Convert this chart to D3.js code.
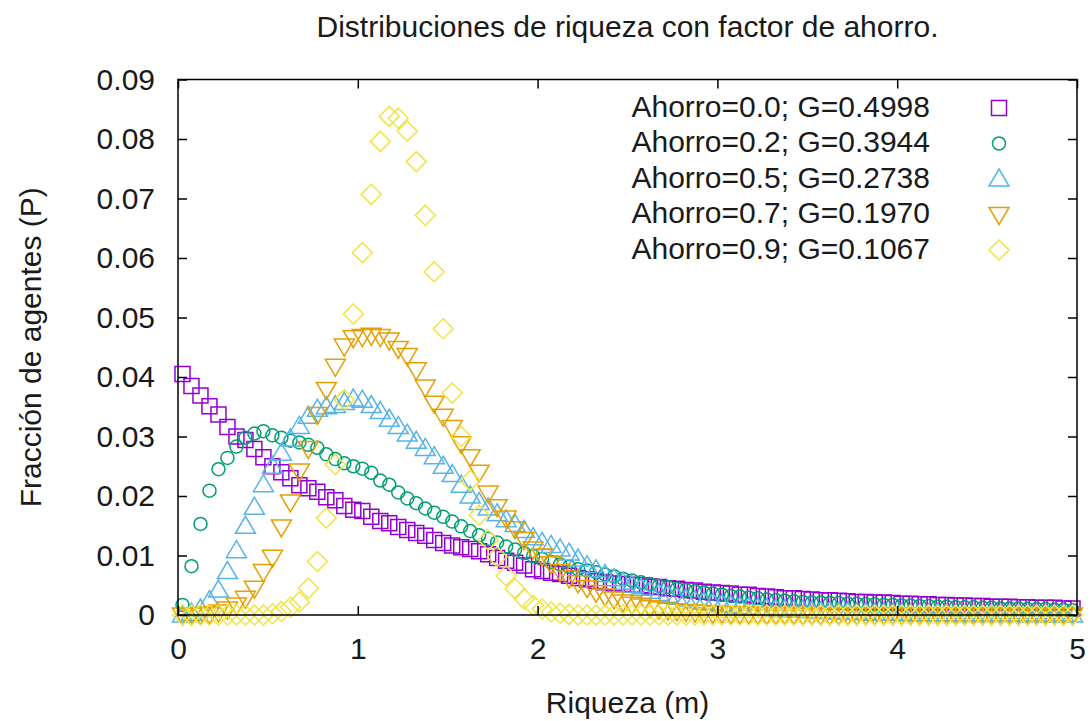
<!DOCTYPE html>
<html>
<head>
<meta charset="utf-8">
<script src="https://cdn.jsdelivr.net/npm/d3@7"></script>
<style>
  html, body { margin: 0; padding: 0; background: #fff; }
  svg { display: block; font-family: "Liberation Sans", Arial, sans-serif; }
</style>
</head>
<body>
<svg id="chart" width="1090" height="721"></svg>
<script>
// Bin centres of the wealth histogram (bin width 0.05)
const riqueza = [
  0.025, 0.075, 0.125, 0.175, 0.225, 0.275, 0.325, 0.375, 0.425, 0.475,
  0.525, 0.575, 0.625, 0.675, 0.725, 0.775, 0.825, 0.875, 0.925, 0.975,
  1.025, 1.075, 1.125, 1.175, 1.225, 1.275, 1.325, 1.375, 1.425, 1.475,
  1.525, 1.575, 1.625, 1.675, 1.725, 1.775, 1.825, 1.875, 1.925, 1.975,
  2.025, 2.075, 2.125, 2.175, 2.225, 2.275, 2.325, 2.375, 2.425, 2.475,
  2.525, 2.575, 2.625, 2.675, 2.725, 2.775, 2.825, 2.875, 2.925, 2.975,
  3.025, 3.075, 3.125, 3.175, 3.225, 3.275, 3.325, 3.375, 3.425, 3.475,
  3.525, 3.575, 3.625, 3.675, 3.725, 3.775, 3.825, 3.875, 3.925, 3.975,
  4.025, 4.075, 4.125, 4.175, 4.225, 4.275, 4.325, 4.375, 4.425, 4.475,
  4.525, 4.575, 4.625, 4.675, 4.725, 4.775, 4.825, 4.875, 4.925, 4.975
];

// Fraction of agents per bin, one array per saving factor
const ahorro00 = [
  0.0405, 0.0385, 0.0369, 0.0351, 0.0337, 0.0316, 0.0300, 0.0294, 0.0279, 0.0265,
  0.0250, 0.0240, 0.0230, 0.0218, 0.0213, 0.0207, 0.0198, 0.0193, 0.0183, 0.0177,
  0.0175, 0.0165, 0.0158, 0.0154, 0.0148, 0.0143, 0.0138, 0.0133, 0.0126, 0.0121,
  0.0117, 0.0114, 0.0111, 0.0107, 0.0102, 0.0096, 0.0091, 0.0088, 0.0083, 0.0077,
  0.0074, 0.0071, 0.0069, 0.0066, 0.0062, 0.0060, 0.0057, 0.0055, 0.0053, 0.0052,
  0.0051, 0.0050, 0.0048, 0.0047, 0.0045, 0.0044, 0.0042, 0.0041, 0.0039, 0.0038,
  0.0037, 0.0036, 0.0034, 0.0034, 0.0032, 0.0031, 0.0030, 0.0028, 0.0028, 0.0027,
  0.0026, 0.0025, 0.0025, 0.0024, 0.0023, 0.0022, 0.0022, 0.0021, 0.0021, 0.0020,
  0.0019, 0.0019, 0.0018, 0.0018, 0.0017, 0.0017, 0.0016, 0.0016, 0.0015, 0.0015,
  0.0014, 0.0014, 0.0014, 0.0013, 0.0013, 0.0012, 0.0012, 0.0012, 0.0011, 0.0011
];
const ahorro02 = [
  0.0017, 0.0082, 0.0153, 0.0209, 0.0245, 0.0264, 0.0283, 0.0298, 0.0305, 0.0309,
  0.0302, 0.0298, 0.0293, 0.0290, 0.0286, 0.0281, 0.0270, 0.0262, 0.0255, 0.0250,
  0.0246, 0.0239, 0.0226, 0.0219, 0.0206, 0.0196, 0.0188, 0.0179, 0.0172, 0.0165,
  0.0157, 0.0149, 0.0141, 0.0134, 0.0128, 0.0122, 0.0115, 0.0110, 0.0104, 0.0099,
  0.0094, 0.0089, 0.0085, 0.0081, 0.0077, 0.0075, 0.0072, 0.0068, 0.0065, 0.0061,
  0.0058, 0.0055, 0.0052, 0.0049, 0.0047, 0.0044, 0.0042, 0.0040, 0.0038, 0.0036,
  0.0034, 0.0032, 0.0031, 0.0029, 0.0028, 0.0026, 0.0025, 0.0024, 0.0023, 0.0022,
  0.0021, 0.0021, 0.0020, 0.0020, 0.0019, 0.0019, 0.0018, 0.0018, 0.0017, 0.0017,
  0.0016, 0.0016, 0.0015, 0.0015, 0.0014, 0.0014, 0.0013, 0.0013, 0.0013, 0.0012,
  0.0012, 0.0011, 0.0011, 0.0011, 0.0010, 0.0010, 0.0010, 0.0009, 0.0009, 0.0008
];
const ahorro05 = [
  0.0000, 0.0003, 0.0010, 0.0024, 0.0042, 0.0073, 0.0108, 0.0149, 0.0181, 0.0219,
  0.0250, 0.0272, 0.0296, 0.0317, 0.0334, 0.0346, 0.0350, 0.0352, 0.0357, 0.0363,
  0.0361, 0.0352, 0.0342, 0.0329, 0.0317, 0.0304, 0.0292, 0.0280, 0.0266, 0.0250,
  0.0236, 0.0218, 0.0200, 0.0189, 0.0180, 0.0170, 0.0160, 0.0152, 0.0142, 0.0130,
  0.0122, 0.0117, 0.0111, 0.0104, 0.0094, 0.0083, 0.0076, 0.0068, 0.0061, 0.0055,
  0.0050, 0.0045, 0.0040, 0.0036, 0.0033, 0.0030, 0.0027, 0.0024, 0.0022, 0.0020,
  0.0018, 0.0016, 0.0014, 0.0013, 0.0012, 0.0011, 0.0010, 0.0009, 0.0008, 0.0008,
  0.0007, 0.0006, 0.0006, 0.0005, 0.0005, 0.0004, 0.0004, 0.0003, 0.0003, 0.0003,
  0.0003, 0.0002, 0.0002, 0.0002, 0.0002, 0.0002, 0.0001, 0.0001, 0.0001, 0.0001,
  0.0001, 0.0001, 0.0001, 0.0001, 0.0000, 0.0001, 0.0000, 0.0000, 0.0001, 0.0000
];
const ahorro07 = [
  0.0000, 0.0000, 0.0001, 0.0002, 0.0005, 0.0010, 0.0017, 0.0028, 0.0045, 0.0073,
  0.0097, 0.0148, 0.0190, 0.0242, 0.0280, 0.0337, 0.0379, 0.0418, 0.0452, 0.0466,
  0.0468, 0.0470, 0.0468, 0.0462, 0.0448, 0.0436, 0.0412, 0.0383, 0.0356, 0.0334,
  0.0315, 0.0288, 0.0266, 0.0240, 0.0205, 0.0182, 0.0163, 0.0145, 0.0127, 0.0111,
  0.0099, 0.0086, 0.0073, 0.0062, 0.0054, 0.0046, 0.0038, 0.0032, 0.0027, 0.0022,
  0.0018, 0.0015, 0.0012, 0.0010, 0.0008, 0.0007, 0.0006, 0.0005, 0.0004, 0.0003,
  0.0003, 0.0002, 0.0002, 0.0002, 0.0001, 0.0001, 0.0001, 0.0001, 0.0001, 0.0000,
  0.0000, 0.0000, 0.0000, 0.0000, 0.0000, 0.0000, 0.0000, 0.0000, 0.0000, 0.0000,
  0.0000, 0.0000, 0.0000, 0.0000, 0.0000, 0.0000, 0.0000, 0.0000, 0.0000, 0.0000,
  0.0000, 0.0000, 0.0000, 0.0000, 0.0000, 0.0000, 0.0000, 0.0000, 0.0000, 0.0000
];
const ahorro09 = [
  0.0000, 0.0000, 0.0000, 0.0000, 0.0000, 0.0000, 0.0000, 0.0000, 0.0000, 0.0000,
  0.0002, 0.0006, 0.0013, 0.0022, 0.0045, 0.0090, 0.0163, 0.0253, 0.0362, 0.0506,
  0.0609, 0.0707, 0.0796, 0.0838, 0.0835, 0.0813, 0.0762, 0.0672, 0.0577, 0.0481,
  0.0373, 0.0300, 0.0226, 0.0168, 0.0126, 0.0098, 0.0066, 0.0044, 0.0027, 0.0016,
  0.0010, 0.0005, 0.0003, 0.0001, 0.0000, 0.0000, 0.0000, 0.0000, 0.0000, 0.0000,
  0.0000, 0.0000, 0.0000, 0.0000, 0.0000, 0.0000, 0.0000, 0.0000, 0.0000, 0.0000,
  0.0000, 0.0000, 0.0000, 0.0000, 0.0000, 0.0000, 0.0000, 0.0000, 0.0000, 0.0000,
  0.0000, 0.0000, 0.0000, 0.0000, 0.0000, 0.0000, 0.0000, 0.0000, 0.0000, 0.0000,
  0.0000, 0.0000, 0.0000, 0.0000, 0.0000, 0.0000, 0.0000, 0.0000, 0.0000, 0.0000,
  0.0000, 0.0000, 0.0000, 0.0000, 0.0000, 0.0000, 0.0000, 0.0000, 0.0000, 0.0000
];

const legendLabels = [
  "Ahorro=0.0; G=0.4998",
  "Ahorro=0.2; G=0.3944",
  "Ahorro=0.5; G=0.2738",
  "Ahorro=0.7; G=0.1970",
  "Ahorro=0.9; G=0.1067"
];
const xTicks = [0, 1, 2, 3, 4, 5];
const yTicks = [0, 0.01, 0.02, 0.03, 0.04, 0.05, 0.06, 0.07, 0.08, 0.09];

// Open gnuplot-style point symbols
const symbols = {
  square:   "M-7.5,-7.5H7.5V7.5H-7.5Z",
  circle:   "M-6.5,0A6.5,6.5 0 1,0 6.5,0A6.5,6.5 0 1,0 -6.5,0Z",
  triUp:    "M0,-10L10,7L-10,7Z",
  triDown:  "M0,10L10,-7L-10,-7Z",
  diamond:  "M0,-10L10,0L0,10L-10,0Z"
};

const series = [
  { label: legendLabels[0], values: ahorro00, color: "#9400d3", symbol: symbols.square },
  { label: legendLabels[1], values: ahorro02, color: "#009e73", symbol: symbols.circle },
  { label: legendLabels[2], values: ahorro05, color: "#56b4e9", symbol: symbols.triUp },
  { label: legendLabels[3], values: ahorro07, color: "#e69f00", symbol: symbols.triDown },
  { label: legendLabels[4], values: ahorro09, color: "#f0e442", symbol: symbols.diamond }
];

const W = 1090, H = 721;
const margin = { left: 178, right: 13, top: 79.5, bottom: 106 };
const fontSize = 30;
const textColor = "#1a1a1a";

const svg = d3.select("#chart");

const x = d3.scaleLinear().domain([0, 5]).range([margin.left, W - margin.right]);
const y = d3.scaleLinear().domain([0, 0.09]).range([H - margin.bottom, margin.top]);

// Title
svg.append("text")
  .attr("x", (x(0) + x(5)) / 2)
  .attr("y", 37)
  .attr("text-anchor", "middle")
  .attr("font-size", fontSize)
  .attr("fill", textColor)
  .text("Distribuciones de riqueza con factor de ahorro.");

// Data points
const plot = svg.append("g");
series.forEach(s => {
  plot.append("g")
    .selectAll("path")
    .data(riqueza.map((m, i) => [m, s.values[i]]))
    .join("path")
    .attr("transform", d => `translate(${x(d[0])},${y(d[1])})`)
    .attr("d", s.symbol)
    .attr("fill", "none")
    .attr("stroke", s.color)
    .attr("stroke-width", 1.5);
});

// Axes with inward ticks, mirrored on top and right
const tick = 9;
const fmtY = d => d === 0 ? "0" : d3.format(".2f")(d);

const gx = svg.append("g")
  .attr("transform", `translate(0,${y(0)})`)
  .call(d3.axisBottom(x).tickValues(xTicks).tickSize(-tick).tickPadding(23).tickFormat(d3.format("d")));
const gy = svg.append("g")
  .attr("transform", `translate(${x(0)},0)`)
  .call(d3.axisLeft(y).tickValues(yTicks).tickSize(-tick).tickPadding(23).tickFormat(fmtY));
const gt = svg.append("g")
  .attr("transform", `translate(0,${y(0.09)})`)
  .call(d3.axisTop(x).tickValues(xTicks).tickSize(-tick).tickFormat(""));
const gr = svg.append("g")
  .attr("transform", `translate(${x(5)},0)`)
  .call(d3.axisRight(y).tickValues(yTicks).tickSize(-tick).tickFormat(""));

[gx, gy, gt, gr].forEach(g => {
  g.select(".domain").remove();
  g.selectAll("line").attr("stroke", "#000").attr("stroke-width", 1.5);
  g.selectAll("text")
    .attr("font-size", fontSize)
    .attr("font-family", "Liberation Sans, Arial, sans-serif")
    .attr("fill", textColor);
});

// Plot border
svg.append("rect")
  .attr("x", x(0)).attr("y", y(0.09))
  .attr("width", x(5) - x(0)).attr("height", y(0) - y(0.09))
  .attr("fill", "none").attr("stroke", "#000").attr("stroke-width", 1.5);

// Axis titles
svg.append("text")
  .attr("x", (x(0) + x(5)) / 2)
  .attr("y", 713)
  .attr("text-anchor", "middle")
  .attr("font-size", fontSize)
  .attr("fill", textColor)
  .text("Riqueza (m)");

svg.append("text")
  .attr("transform", `translate(41,${(y(0) + y(0.09)) / 2}) rotate(-90)`)
  .attr("text-anchor", "middle")
  .attr("font-size", fontSize)
  .attr("fill", textColor)
  .text("Fracción de agentes (P)");

// Legend
const legend = svg.append("g");
series.forEach((s, i) => {
  const cy = 106 + i * 35.5;
  legend.append("text")
    .attr("x", 930)
    .attr("y", cy + 10.7)
    .attr("text-anchor", "end")
    .attr("font-size", fontSize)
    .attr("fill", textColor)
    .text(s.label);
  legend.append("path")
    .attr("transform", `translate(999,${cy + 2})`)
    .attr("d", s.symbol)
    .attr("fill", "none")
    .attr("stroke", s.color)
    .attr("stroke-width", 1.5);
});
</script>
</body>
</html>
